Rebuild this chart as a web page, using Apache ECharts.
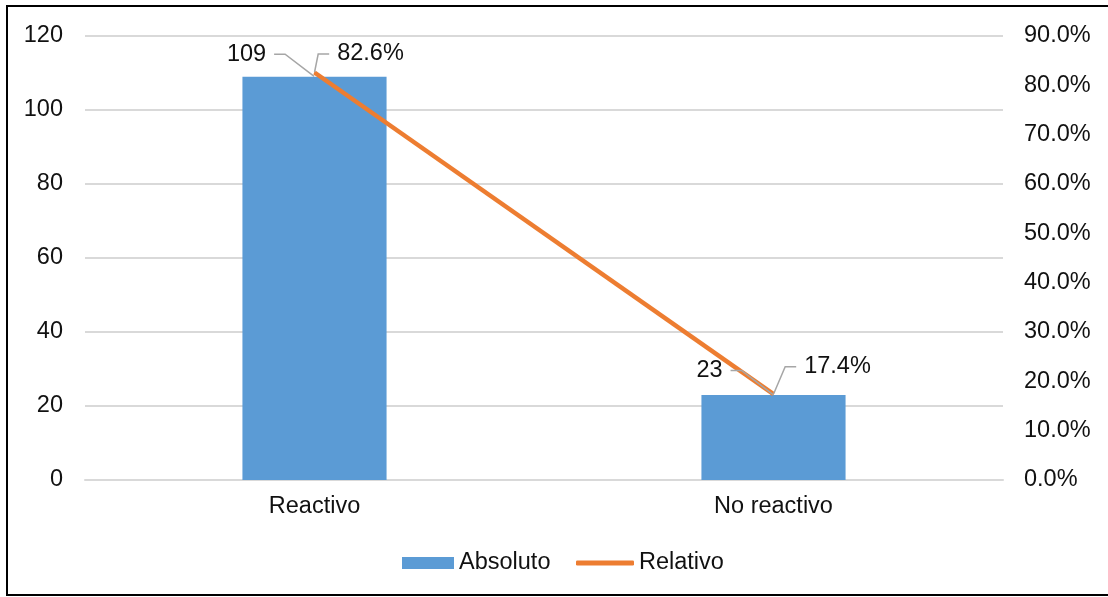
<!DOCTYPE html>
<html>
<head>
<meta charset="utf-8">
<script src="https://cdn.jsdelivr.net/npm/echarts@6/dist/echarts.min.js"></script>
<style>
  html, body { margin: 0; padding: 0; background: #fff; }
  #chart { width: 1108px; height: 597px; }
</style>
</head>
<body>
<div id="chart"></div>
<script>
const categories = ['Reactivo', 'No reactivo'];
const absoluto = [109, 23];
const relativo = [82.6, 17.4];

// label offsets (dx, dy) per point, as in the original
const barLabelShift = [[-68, -5], [-64, -7]];
const lineLabelShift = [[56, -1], [64, -10]];

const font = 'Arial, "Liberation Sans", sans-serif';
const textColor = '#111';
const fs = 23.5;

const chart = echarts.init(document.getElementById('chart'));

const leader = {
    show: true,
    length2: 11,
    lineStyle: { color: '#a6a6a6', width: 1.5 }
};

const option = {
    animation: false,
    textStyle: { fontFamily: font },
    graphic: [
        {
            type: 'rect',
            shape: { x: 7, y: 6, width: 1110, height: 589 },
            style: { fill: 'none', stroke: '#000', lineWidth: 2 },
            silent: true
        }
    ],
    grid: {
        left: 85,
        right: 105,
        top: 36,
        bottom: 117
    },
    legend: [
        {
            data: ['Absoluto'],
            left: 397,
            top: 546,
            icon: 'rect',
            itemWidth: 52,
            itemHeight: 12,
            textStyle: { fontSize: fs, color: textColor, fontFamily: font }
        },
        {
            data: ['Relativo'],
            left: 571,
            top: 546,
            icon: 'roundRect',
            itemWidth: 58,
            itemHeight: 5,
            textStyle: { fontSize: fs, color: textColor, fontFamily: font }
        }
    ],
    xAxis: {
        type: 'category',
        data: categories,
        axisTick: { show: false },
        axisLine: { lineStyle: { color: '#d9d9d9', width: 2 } },
        axisLabel: { fontSize: fs, color: textColor, margin: 15 }
    },
    yAxis: [
        {
            type: 'value',
            min: 0,
            max: 120,
            interval: 20,
            axisLabel: { fontSize: fs, color: textColor, margin: 22 },
            axisLine: { show: false },
            axisTick: { show: false },
            splitLine: { lineStyle: { color: '#d9d9d9', width: 2 } }
        },
        {
            type: 'value',
            min: 0,
            max: 90,
            interval: 10,
            axisLabel: {
                fontSize: fs,
                color: textColor,
                margin: 21,
                formatter: v => v.toFixed(1) + '%'
            },
            axisLine: { show: false },
            axisTick: { show: false },
            splitLine: { show: false }
        }
    ],
    series: [
        {
            name: 'Absoluto',
            type: 'bar',
            data: absoluto,
            barWidth: '31.4%',
            itemStyle: { color: '#5b9bd5' }
        },
        {
            // carries the bar value labels, anchored at the bar tops
            name: 'Absoluto etiquetas',
            type: 'scatter',
            data: absoluto,
            symbol: 'circle',
            symbolSize: 1,
            itemStyle: { color: 'rgba(0,0,0,0)', opacity: 1 },
            z: 4,
            silent: true,
            label: {
                show: true,
                position: 'top',
                fontSize: fs,
                color: textColor,
                backgroundColor: 'rgba(255,255,255,0)',
                padding: [0, 8]
            },
            labelLine: leader,
            labelLayout: p => ({
                dx: barLabelShift[p.dataIndex][0],
                dy: barLabelShift[p.dataIndex][1]
            })
        },
        {
            name: 'Relativo',
            type: 'line',
            yAxisIndex: 1,
            data: relativo,
            symbol: 'circle',
            symbolSize: 1,
            showSymbol: true,
            lineStyle: { color: '#ed7d31', width: 4.5 },
            itemStyle: { color: '#ed7d31' },
            z: 3,
            label: {
                show: true,
                position: 'top',
                fontSize: fs,
                color: textColor,
                backgroundColor: 'rgba(255,255,255,0)',
                padding: [0, 8],
                formatter: p => p.value.toFixed(1) + '%'
            },
            labelLine: leader,
            labelLayout: p => ({
                dx: lineLabelShift[p.dataIndex][0],
                dy: lineLabelShift[p.dataIndex][1]
            })
        }
    ]
};

chart.setOption(option);
</script>
</body>
</html>
